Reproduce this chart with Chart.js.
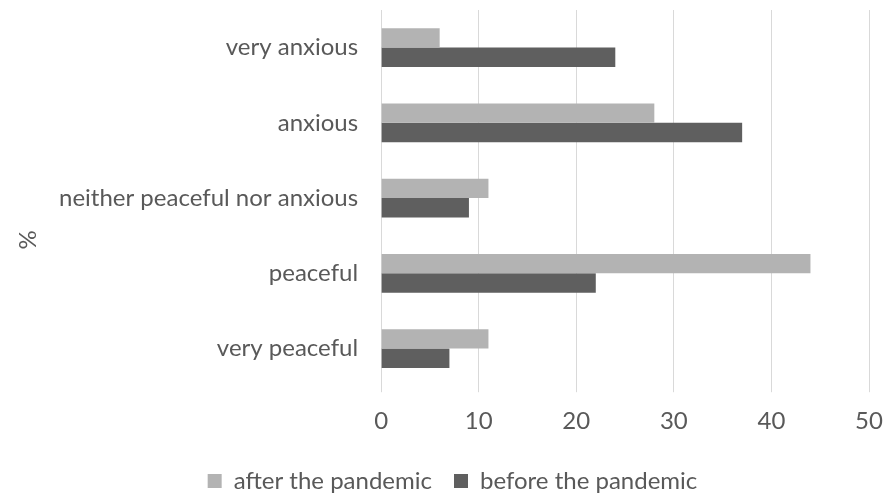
<!DOCTYPE html>
<html>
<head>
<meta charset="utf-8">
<script src="https://cdn.jsdelivr.net/npm/chart.js@4/dist/chart.umd.min.js"></script>
<style>
  html, body { margin: 0; padding: 0; background: #ffffff; }
  #wrap { width: 887px; height: 493px; }
</style>
</head>
<body>
<div id="wrap"><canvas id="chart" width="887" height="493"></canvas></div>
<script>
// Survey answers, ordered top to bottom
const categories = [
  'very anxious',
  'anxious',
  'neither peaceful nor anxious',
  'peaceful',
  'very peaceful'
];
const seriesNames = ['after the pandemic', 'before the pandemic'];
const afterValues = [6, 28, 11, 44, 11];
const beforeValues = [24, 37, 9, 22, 7];
const xTicks = [0, 10, 20, 30, 40, 50];
const axisTitle = '%';

const textColor = '#595959';
const gridColor = '#d9d9d9';
const fontFamily = 'Lato, "Open Sans", sans-serif';
const fontSize = 24;

// Rotated "%" title beside the category labels
const sideTitle = {
  id: 'sideTitle',
  afterDraw(chart) {
    const ctx = chart.ctx;
    ctx.save();
    ctx.translate(28, 240);
    ctx.rotate(-Math.PI / 2);
    ctx.fillStyle = textColor;
    ctx.font = fontSize + 'px ' + fontFamily;
    ctx.textAlign = 'center';
    ctx.textBaseline = 'middle';
    ctx.fillText(axisTitle, 0, 0);
    ctx.restore();
  }
};

new Chart(document.getElementById('chart'), {
  type: 'bar',
  data: {
    labels: categories,
    datasets: [
      {
        label: seriesNames[0],
        data: afterValues,
        backgroundColor: '#b3b3b3',
        categoryPercentage: 0.515,
        barPercentage: 1.0
      },
      {
        label: seriesNames[1],
        data: beforeValues,
        backgroundColor: '#5f5f5f',
        categoryPercentage: 0.515,
        barPercentage: 1.0
      }
    ]
  },
  options: {
    indexAxis: 'y',
    responsive: false,
    animation: false,
    devicePixelRatio: 1,
    layout: { padding: { top: 0, right: 18, bottom: -10, left: 36 } },
    scales: {
      x: {
        min: xTicks[0],
        max: xTicks[xTicks.length - 1],
        afterBuildTicks: (axis) => { axis.ticks = xTicks.map(v => ({ value: v })); },
        afterFit: (axis) => { axis.paddingRight = 18; axis.height -= 4; },
        grid: { color: gridColor, lineWidth: 1, drawTicks: true, tickLength: 6, tickColor: gridColor },
        border: { display: false },
        ticks: { color: textColor, font: { family: fontFamily, size: fontSize }, padding: 15 }
      },
      y: {
        afterFit: (axis) => { axis.paddingTop = 10; axis.paddingBottom = 0; },
        grid: { display: false, drawTicks: false },
        border: { display: false },
        ticks: { color: textColor, font: { family: fontFamily, size: fontSize }, padding: 23 }
      }
    },
    plugins: {
      legend: {
        position: 'bottom',
        labels: {
          color: textColor,
          font: { family: fontFamily, size: fontSize },
          boxWidth: 14,
          boxHeight: 14,
          padding: 22
        }
      },
      tooltip: { enabled: false }
    }
  },
  plugins: [sideTitle]
});
</script>
</body>
</html>
